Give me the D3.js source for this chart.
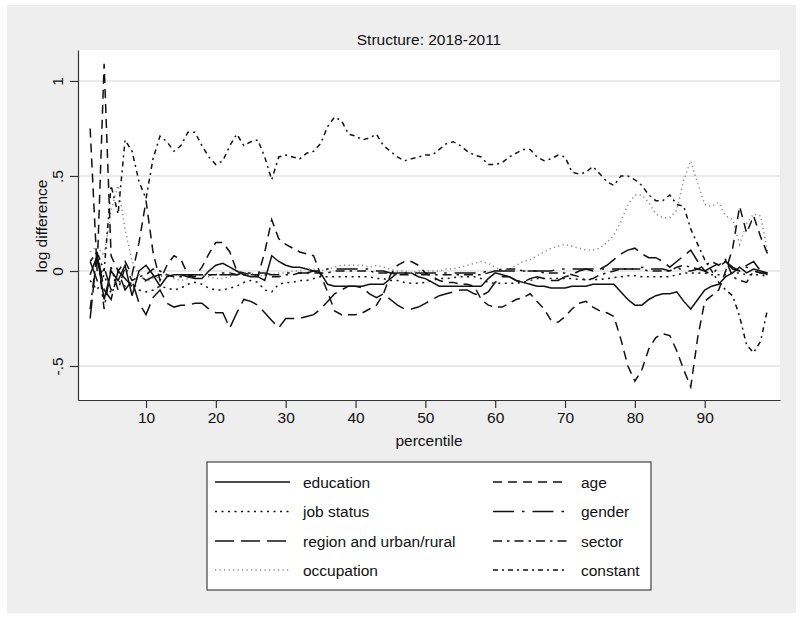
<!DOCTYPE html>
<html lang="en">
<head>
  <meta charset="UTF-8">
  <title>Structure: 2018-2011</title>
  <script src="https://d3js.org/d3.v7.min.js"></script>
  <style>
    body { margin: 0; background: #fff; }
    text { font-family: "Liberation Sans", Arial, sans-serif; fill: #111; font-size: 15.5px; }
    .grid { stroke: #e2e2e2; stroke-width: 1.5; }
    .axis path, .axis line { stroke: #333; stroke-width: 1.2; }
    .series { fill: none; stroke-width: 1.5; }
  </style>
</head>
<body>
  <svg id="chart" width="802" height="619"></svg>

  <script>
    // Data (percentiles 2..99)
    const percentiles = d3.range(2, 100);

    const education = [
      -0.02, 0.08, -0.15, 0.0, -0.05, 0.03, -0.13, 0.0,
      0.03, -0.02, -0.08, -0.03, -0.02, -0.02, -0.03, -0.04, -0.04, 0.0,
      0.03, 0.04, 0.02, 0.0, -0.02, -0.03, -0.03, -0.05, 0.08, 0.05,
      0.03, 0.02, 0.02, 0.01, 0.0, -0.01, -0.07, -0.08, -0.08, -0.08,
      -0.08, -0.08, -0.07, -0.07, -0.07, -0.04, -0.01, -0.01, -0.01, -0.03,
      -0.04, -0.06, -0.08, -0.08, -0.08, -0.08, -0.08, -0.08, -0.08, -0.04,
      -0.01, -0.02, -0.03, -0.05, -0.06, -0.07, -0.08, -0.08, -0.09, -0.09,
      -0.09, -0.08, -0.08, -0.08, -0.07, -0.07, -0.07, -0.07, -0.11, -0.15,
      -0.18, -0.18, -0.15, -0.13, -0.12, -0.12, -0.11, -0.16, -0.2, -0.15,
      -0.1, -0.08, -0.07, -0.03, -0.01, 0.02, -0.01, 0.01, 0.0, -0.01
    ];

    const jobStatus = [
      -0.05, -0.1, -0.02, -0.12, -0.05, -0.08, -0.06, -0.1,
      -0.11, -0.1, -0.08, -0.09, -0.1, -0.09, -0.07, -0.06, -0.07, -0.09,
      -0.1, -0.1, -0.09, -0.08, -0.06, -0.05, -0.06, -0.1, -0.11, -0.07,
      -0.06, -0.06, -0.05, -0.05, -0.04, -0.03, -0.03, -0.03, -0.03, -0.03,
      -0.03, -0.03, -0.03, -0.04, -0.04, -0.05, -0.05, -0.06, -0.065, -0.065,
      -0.06, -0.05, -0.04, -0.04, -0.035, -0.03, -0.03, -0.03, -0.04, -0.06,
      -0.065, -0.065, -0.065, -0.065, -0.06, -0.05, -0.04, -0.04, -0.04, -0.04,
      -0.04, -0.04, -0.045, -0.045, -0.045, -0.045, -0.04, -0.035, -0.03, -0.025,
      -0.025, -0.03, -0.03, -0.03, -0.03, -0.03, -0.02, -0.01, -0.01, -0.01,
      -0.01, -0.02, -0.02, -0.02, -0.01, -0.01, -0.02, -0.02, -0.02, -0.03
    ];

    const region = [
      -0.25, 0.1, -0.1, -0.15, 0.0, -0.1, -0.05, -0.17,
      -0.23, -0.14, -0.1, -0.17, -0.19, -0.18, -0.18, -0.17, -0.17, -0.2,
      -0.22, -0.22, -0.3, -0.22, -0.15, -0.16, -0.18, -0.22, -0.26, -0.3,
      -0.25, -0.25, -0.25, -0.24, -0.23, -0.2, -0.16, -0.12, -0.1, -0.08,
      -0.08, -0.09, -0.12, -0.14, -0.12, -0.15, -0.18, -0.2, -0.2, -0.19,
      -0.17, -0.15, -0.13, -0.12, -0.11, -0.1, -0.1, -0.12, -0.13, -0.11,
      -0.06, -0.03, -0.03, -0.05, -0.06, -0.04, -0.03, -0.04, -0.05, -0.05,
      -0.03, -0.02, 0.0, 0.01, 0.0, 0.01, 0.03, 0.06, 0.09, 0.11,
      0.12, 0.09, 0.07, 0.07, 0.05, 0.02, 0.05, 0.08, 0.11, 0.05,
      0.0, 0.02, 0.04, 0.05, 0.02, 0.0, 0.03, 0.05, 0.0, -0.02
    ];

    const occupation = [
      0.1, 0.13, 0.08, 0.32, 0.45, 0.22, 0.05, -0.02,
      -0.06, -0.04, -0.03, -0.02, -0.04, -0.05, -0.04, -0.03, -0.02, -0.03,
      -0.04, -0.04, -0.03, -0.02, -0.01, -0.01, -0.02, -0.03, -0.02, -0.01,
      -0.01, 0.0, 0.0, 0.01, 0.01, 0.0, 0.01, 0.02, 0.03, 0.03,
      0.03, 0.03, 0.02, 0.03, 0.02, 0.01, 0.0, 0.0, -0.01, 0.0,
      0.0, 0.0, 0.0, 0.01, 0.01, 0.02, 0.03, 0.04, 0.05, 0.04,
      0.02, 0.0, 0.01, 0.03, 0.05, 0.06, 0.08, 0.1, 0.12, 0.13,
      0.14, 0.13, 0.12, 0.11, 0.11, 0.12, 0.15, 0.19, 0.26, 0.35,
      0.4, 0.4, 0.36, 0.3, 0.28, 0.28, 0.32, 0.48, 0.58, 0.46,
      0.35, 0.34, 0.36, 0.29, 0.27, 0.14, 0.25, 0.3, 0.29, 0.1
    ];

    const age = [
      0.75, 0.0, 1.09, 0.08, 0.0, 0.05, -0.02, 0.15,
      0.37, 0.1, -0.05, 0.03, 0.08, 0.06, -0.02, -0.03, 0.02, 0.09,
      0.15, 0.15, 0.1, 0.0, -0.01, -0.02, -0.03, 0.1, 0.27, 0.17,
      0.14, 0.12, 0.1, 0.09, 0.08, -0.02, -0.11, -0.21, -0.23, -0.23,
      -0.23, -0.22, -0.2, -0.18, -0.12, -0.02, 0.03, 0.05, 0.05, 0.03,
      -0.01, -0.03, -0.05, -0.06, -0.06, -0.07, -0.07, -0.08, -0.15, -0.18,
      -0.19, -0.19, -0.17, -0.15, -0.14, -0.12, -0.16, -0.2, -0.26, -0.27,
      -0.24, -0.2, -0.17, -0.16, -0.19, -0.21, -0.22, -0.24, -0.36, -0.5,
      -0.58, -0.52, -0.41, -0.35, -0.33, -0.34, -0.42, -0.52, -0.61, -0.35,
      -0.16, -0.13, -0.1, 0.0, 0.12, 0.34, 0.2, 0.29, 0.18, 0.09
    ];

    const gender = [
      0.05, -0.05, 0.02, -0.1, 0.0, -0.04, -0.08, -0.02,
      -0.05, -0.03, -0.02, -0.02, -0.03, -0.02, -0.02, -0.02, -0.02, -0.02,
      -0.02, -0.02, -0.02, -0.02, -0.01, -0.01, -0.01, -0.01, -0.02, -0.02,
      -0.01, -0.01, -0.01, -0.01, 0.0, 0.0, 0.01, 0.01, 0.01, 0.01,
      0.01, 0.01, 0.01, 0.0, 0.0, -0.01, -0.01, -0.01, -0.01, -0.01,
      -0.01, -0.01, -0.01, -0.01, -0.01, -0.01, -0.01, -0.01, -0.01, 0.0,
      0.0, 0.0, 0.0, 0.0, 0.0, 0.0, 0.0, 0.0, 0.0, 0.01,
      0.01, 0.01, 0.01, 0.01, 0.01, 0.01, 0.01, 0.01, 0.01, 0.01,
      0.01, 0.02, 0.01, 0.01, 0.01, 0.0, 0.02, 0.0, 0.0, 0.01,
      0.0, -0.02, 0.02, 0.05, 0.01, 0.0, 0.02, 0.0, -0.01, -0.01
    ];

    const sector = [
      -0.2, 0.1, -0.2, 0.02, -0.1, 0.02, -0.05, -0.03,
      -0.02, 0.01, 0.0, -0.02, -0.03, -0.03, -0.03, -0.03, -0.02, -0.02,
      -0.02, -0.01, -0.01, -0.02, -0.02, -0.02, -0.02, -0.02, -0.03, -0.03,
      -0.02, -0.02, -0.01, -0.01, -0.01, -0.01, -0.01, 0.0, 0.0, 0.0,
      0.0, 0.0, 0.0, -0.01, -0.01, -0.01, -0.02, -0.02, -0.02, -0.02,
      -0.02, -0.02, -0.02, -0.02, -0.02, -0.02, -0.02, -0.02, -0.02, -0.01,
      0.0, 0.01, 0.01, 0.01, 0.0, 0.0, 0.0, -0.01, -0.01, -0.01,
      -0.01, -0.02, -0.03, -0.05, -0.04, -0.02, -0.01, 0.0, 0.01, 0.01,
      0.01, 0.01, 0.0, 0.0, 0.0, 0.0, 0.02, 0.03, 0.02, 0.01,
      0.03, 0.05, 0.03, 0.06, -0.03, -0.05, -0.06, 0.0, -0.01, -0.02
    ];

    const constant = [
      0.05, 0.1, 0.0, 0.45, 0.3, 0.69, 0.63, 0.47,
      0.38, 0.59, 0.71, 0.68, 0.63, 0.66, 0.73, 0.73, 0.66, 0.6,
      0.56, 0.58, 0.66, 0.72, 0.66, 0.68, 0.69, 0.6, 0.48, 0.6,
      0.61, 0.6, 0.59, 0.62, 0.63, 0.67, 0.76, 0.81, 0.79, 0.72,
      0.71, 0.69, 0.7, 0.72, 0.66, 0.63, 0.6, 0.58, 0.59, 0.6,
      0.61, 0.61, 0.64, 0.67, 0.68, 0.66, 0.63, 0.61, 0.6, 0.56,
      0.56, 0.57, 0.6, 0.62, 0.64, 0.64, 0.6, 0.58, 0.59, 0.61,
      0.6, 0.52, 0.51, 0.52, 0.55, 0.51, 0.47, 0.45, 0.5, 0.5,
      0.48, 0.45, 0.4, 0.37, 0.37, 0.4, 0.35, 0.34, 0.22, 0.14,
      0.06, 0.0, -0.06, -0.1, -0.13, -0.24, -0.39, -0.43, -0.37, -0.2
    ];

    const xTicks = [10, 20, 30, 40, 50, 60, 70, 80, 90];
    const yTicks = [-0.5, 0, 0.5, 1];
    const yTickLabels = ["-.5", "0", ".5", "1"];

    // Series (legend order: left column then right column)
    const series = [
      { name: "education", values: education, dash: null, color: "#111" },
      { name: "job status", values: jobStatus, dash: "2,4.5", color: "#111" },
      { name: "region and urban/rural", values: region, dash: "19,7", color: "#111" },
      { name: "occupation", values: occupation, dash: "1.2,3.3", color: "#8a8a8a" },
      { name: "age", values: age, dash: "9,6", color: "#111" },
      { name: "gender", values: gender, dash: "21,8,2.5,8", color: "#111" },
      { name: "sector", values: sector, dash: "9,5,2.5,5", color: "#111" },
      { name: "constant", values: constant, dash: "5,4,2,4", color: "#111" }
    ];

    const svg = d3.select("#chart");

    // Graph region background
    svg.append("rect")
      .attr("x", 7).attr("y", 5)
      .attr("width", 789).attr("height", 608)
      .attr("fill", "#eeeeee");

    // Plot region
    const plot = { left: 78, right: 780, top: 50, bottom: 400 };
    svg.append("rect")
      .attr("x", plot.left).attr("y", plot.top)
      .attr("width", plot.right - plot.left)
      .attr("height", plot.bottom - plot.top)
      .attr("fill", "#fff");

    const xScale = d3.scaleLinear()
      .domain([0.26, 100.78])
      .range([plot.left, plot.right]);

    const yScale = d3.scaleLinear()
      .domain([-0.679, 1.163])
      .range([plot.bottom, plot.top]);

    // Gridlines
    svg.append("g")
      .selectAll("line")
      .data(yTicks)
      .enter()
      .append("line")
      .attr("class", "grid")
      .attr("x1", plot.left)
      .attr("x2", plot.right)
      .attr("y1", (d) => yScale(d))
      .attr("y2", (d) => yScale(d));

    // Lines
    const line = d3.line()
      .x((d, i) => xScale(percentiles[i]))
      .y((d) => yScale(d));

    svg.append("g")
      .selectAll("path")
      .data(series)
      .enter()
      .append("path")
      .attr("class", "series")
      .attr("stroke", (d) => d.color)
      .attr("stroke-dasharray", (d) => d.dash)
      .attr("d", (d) => line(d.values));

    // x-axis
    const xAxis = svg.append("g")
      .attr("class", "axis")
      .attr("transform", "translate(0," + plot.bottom + ")")
      .call(d3.axisBottom(xScale).tickValues(xTicks).tickSize(8).tickSizeOuter(0).tickPadding(4));
    xAxis.selectAll("text")
      .attr("font-size", "15.5px")
      .attr("font-family", "Liberation Sans, Arial, sans-serif")
      .attr("fill", "#111");

    // y-axis
    const yAxis = svg.append("g")
      .attr("class", "axis")
      .attr("transform", "translate(" + plot.left + ",0)")
      .call(d3.axisLeft(yScale).tickValues(yTicks).tickSize(8).tickSizeOuter(0)
        .tickFormat((d, i) => yTickLabels[i]));
    yAxis.selectAll("text")
      .attr("font-size", "15.5px")
      .attr("font-family", "Liberation Sans, Arial, sans-serif")
      .attr("fill", "#111")
      .attr("x", 0).attr("dy", 0)
      .attr("text-anchor", "middle")
      .attr("transform", "translate(-15,0) rotate(-90)");

    // Title
    svg.append("text")
      .attr("x", 429)
      .attr("y", 45)
      .attr("text-anchor", "middle")
      .text("Structure: 2018-2011");

    // Axis titles
    svg.append("text")
      .attr("x", 429)
      .attr("y", 446)
      .attr("text-anchor", "middle")
      .text("percentile");

    svg.append("text")
      .attr("transform", "translate(47,226) rotate(-90)")
      .attr("text-anchor", "middle")
      .text("log difference");

    // Legend
    const legend = svg.append("g");
    legend.append("rect")
      .attr("x", 207).attr("y", 462)
      .attr("width", 444).attr("height", 128)
      .attr("fill", "#fff")
      .attr("stroke", "#444")
      .attr("stroke-width", 1.2);

    const rowY = [482, 511.5, 541, 570];
    const items = legend.selectAll(".item")
      .data(series)
      .enter()
      .append("g")
      .attr("transform", (d, i) => {
        const col = i < 4 ? 0 : 1;
        const row = i % 4;
        return "translate(" + (col === 0 ? 215 : 493) + "," + rowY[row] + ")";
      });

    items.append("line")
      .attr("x1", 0).attr("x2", 75)
      .attr("y1", 0).attr("y2", 0)
      .attr("stroke", (d) => d.color)
      .attr("stroke-width", 1.5)
      .attr("stroke-dasharray", (d) => d.dash);

    items.append("text")
      .attr("x", 88)
      .attr("y", 5.5)
      .text((d) => d.name);
  </script>
</body>
</html>
